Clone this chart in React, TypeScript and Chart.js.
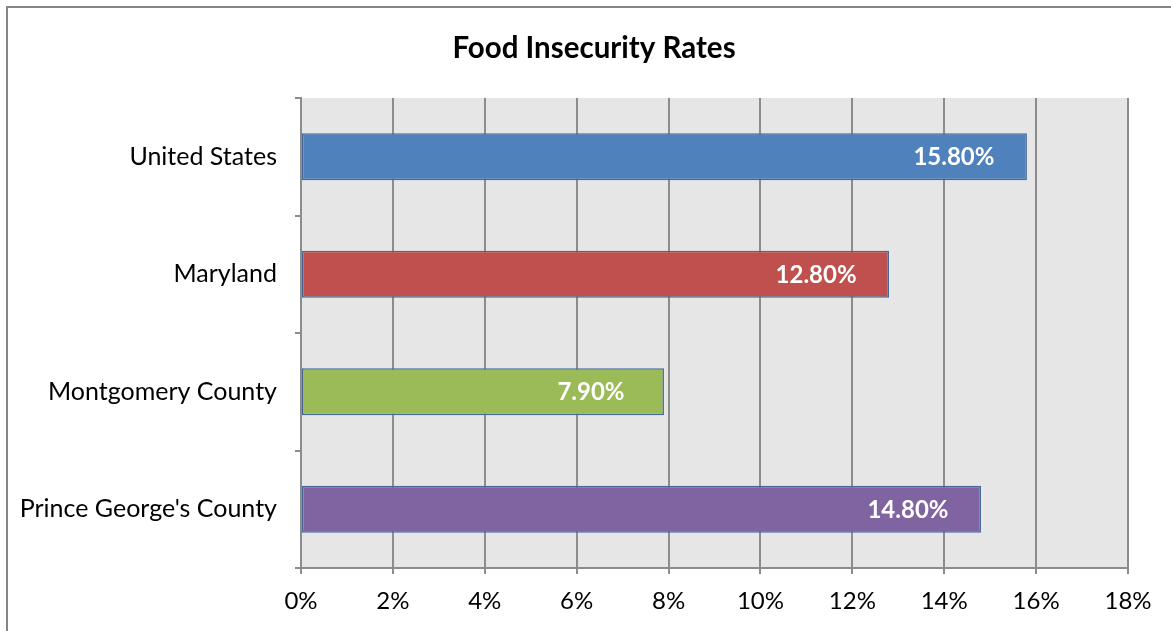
import React, { useEffect, useRef } from "react";
import { Chart, registerables } from "chart.js";

Chart.register(...registerables);

const categories = ["United States", "Maryland", "Montgomery County", "Prince George's County"];
const rates = [15.8, 12.8, 7.9, 14.8];
const barColors = ["#4f81bd", "#c0504d", "#9bbb59", "#8064a2"];
const xTicks = [0, 2, 4, 6, 8, 10, 12, 14, 16, 18];
const titleText = "Food Insecurity Rates";

const FONT = "Lato, 'Open Sans', sans-serif";

const frame = {
  id: "frame",
  beforeDraw(chart: any) {
    const ctx = chart.ctx;
    ctx.save();
    ctx.fillStyle = "#ffffff";
    ctx.fillRect(0, 0, chart.width, chart.height);
    ctx.strokeStyle = "#868686";
    ctx.lineWidth = 2;
    ctx.strokeRect(7, 7, chart.width + 20, chart.height + 20);
    const a = chart.chartArea;
    if (a) {
      ctx.fillStyle = "#e6e6e6";
      ctx.fillRect(a.left, a.top, a.right - a.left, a.bottom - a.top);
    }
    ctx.restore();
  },
  afterDraw(chart: any) {
    const ctx = chart.ctx;
    ctx.save();
    ctx.fillStyle = "#000000";
    ctx.font = "bold 29.5px " + FONT;
    ctx.textAlign = "center";
    ctx.textBaseline = "middle";
    ctx.fillText(titleText, 594, 48);
    ctx.restore();
  },
};

const labelsPlugin = {
  id: "barLabels",
  afterDatasetsDraw(chart: any) {
    const ctx = chart.ctx;
    const meta = chart.getDatasetMeta(0);
    ctx.save();
    ctx.fillStyle = "#ffffff";
    ctx.font = "bold 24px " + FONT;
    ctx.textAlign = "center";
    ctx.textBaseline = "middle";
    meta.data.forEach((bar: any, i: number) => {
      const v = rates[i];
      ctx.fillText(v.toFixed(2) + "%", bar.x - 73, bar.y + 1);
    });
    ctx.restore();
  },
};

export default function App() {
  const ref = useRef<HTMLCanvasElement | null>(null);
  useEffect(() => {
    document.body.style.margin = "0";
    document.body.style.overflow = "hidden";
    const chart = new Chart(ref.current as HTMLCanvasElement, {
      type: "bar",
      data: {
        labels: categories,
        datasets: [
          {
            data: rates,
            backgroundColor: barColors,
            borderColor: "#44699a",
            borderWidth: 1.5,
            borderSkipped: false,
            categoryPercentage: 0.4,
            barPercentage: 1,
          },
        ],
      },
      options: {
        indexAxis: "y",
        animation: false,
        responsive: false,
        maintainAspectRatio: false,
        layout: { padding: { left: 0, right: 43, top: 98, bottom: 0 } },
        plugins: {
          legend: { display: false },
          tooltip: { enabled: false },
          title: { display: false },
        },
        scales: {
          x: {
            min: 0,
            max: 18,
            afterBuildTicks(scale: any) {
              scale.ticks = xTicks.map((v) => ({ value: v }));
            },
            afterFit(scale: any) {
              scale.height = 63;
            },
            grid: {
              color: "#8c8c8c",
              lineWidth: 2,
              tickLength: 6,
              drawTicks: true,
            },
            border: { display: true, color: "#8c8c8c", width: 2 },
            ticks: {
              color: "#000000",
              font: { family: FONT, size: 24 },
              padding: 13,
              callback: (v: any) => v + "%",
            },
          },
          y: {
            afterFit(scale: any) {
              scale.width = 301;
            },
            grid: {
              offset: true,
              drawOnChartArea: false,
              drawTicks: true,
              tickLength: 6,
              color: "#8c8c8c",
              lineWidth: 2,
            },
            border: { display: true, color: "#8c8c8c", width: 2 },
            ticks: {
              color: "#000000",
              font: { family: FONT, size: 25 },
              padding: 18,
            },
          },
        },
      },
      plugins: [frame, labelsPlugin],
    } as any);
    return () => chart.destroy();
  }, []);
  return (
    <div style={{ position: "relative", width: 1171, height: 631 }}>
      <canvas ref={ref} width={1171} height={631} style={{ display: "block" }} />
    </div>
  );
}
